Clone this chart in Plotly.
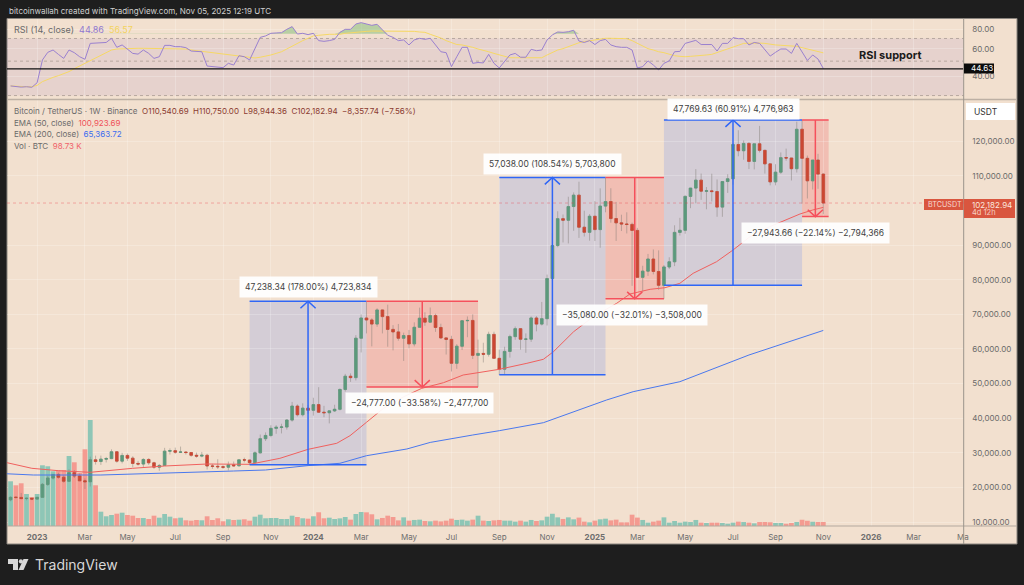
"""BTCUSDT weekly chart with RSI pane and measure boxes."""

from datetime import timedelta

import numpy as np
import pandas as pd
import plotly.graph_objects as go

W, H = 1024, 585
FONT = "Inter"

# weekly bars
week_start = "2022-11-28"
week_end = "2025-11-03"

opens = [
    16430, 17130, 17100, 16780, 16840, 16620, 17127, 20870, 22710, 23740,
    22930, 21780, 24250, 23300, 21900, 21650, 27980, 27480, 28170, 28320,
    30300, 27590, 29230, 28450, 26920, 26750, 28070, 27110, 25850, 26340,
    30470, 30620, 30170, 30230, 30080, 29280, 29040, 29280, 26190, 26100,
    25970, 25830, 26530, 26250, 27970, 27900, 27150, 29990, 34080, 35010,
    37060, 37360, 37450, 39460, 43500, 41000, 42900, 42280, 43930, 41730,
    41580, 42120, 42580, 48300, 52130, 51730, 63110, 68960, 68390, 67210,
    71280, 69360, 65660, 64940, 63100, 63890, 61480, 66270, 68900, 67760,
    69650, 66220, 63210, 62770, 55860, 60800, 68170, 68250, 58160, 58720,
    58470, 64220, 57300, 54160, 59300, 63580, 65880, 62820, 62850, 68960,
    67200, 68760, 80370, 89900, 97670, 97200, 101170, 104460, 95190, 93720,
    98360, 94510, 101300, 102620, 97700, 96460, 96120, 96000, 94270, 80700,
    82500, 86000, 82400, 78400, 83700, 85200, 93700, 94300, 104100, 106500,
    108800, 105600, 105700, 105500, 101000, 108400, 109200, 119100, 117300, 119400,
    114200, 119300, 117400, 113500, 108300, 111100, 115300, 115200, 112100, 123500,
    115100, 108600, 114600, 110540.69,
]
highs = [
    17400, 17430, 18390, 17060, 16970, 17180, 21260, 23370, 23820, 24250,
    23450, 25250, 25020, 24000, 22600, 28870, 29180, 29190, 28800, 31000,
    30490, 30000, 29800, 29000, 27670, 28450, 28450, 27400, 26770, 31430,
    31280, 31500, 31800, 30400, 30100, 30050, 30250, 29700, 26800, 28140,
    26400, 27480, 27480, 28050, 28600, 28000, 30400, 35280, 35900, 37970,
    37980, 38400, 39700, 44700, 44000, 44300, 43800, 45900, 48970, 43570,
    42250, 43880, 48600, 52800, 52950, 64000, 69990, 73780, 68900, 71770,
    71360, 72800, 66900, 67230, 64730, 65500, 67700, 71950, 70600, 71990,
    70200, 67300, 63370, 63800, 61400, 68370, 69400, 70000, 62700, 61800,
    65000, 65000, 59800, 60650, 64130, 66500, 66000, 64500, 69400, 69500,
    73600, 81500, 93500, 99800, 98870, 104000, 105250, 108350, 99960, 98980,
    102720, 106420, 109600, 106460, 102500, 98800, 99500, 96500, 95000, 84050,
    87470, 88770, 88500, 84250, 86500, 95750, 97900, 104360, 105800, 111980,
    110700, 106800, 110650, 109000, 108500, 110500, 119500, 123220, 120250, 119800,
    119300, 124470, 117600, 113500, 113400, 116800, 117900, 113000, 125700, 126200,
    115900, 114000, 116400, 110750,
]
lows = [
    15995, 16730, 16530, 16270, 16330, 16540, 17085, 20400, 22290, 22500,
    21350, 21530, 22720, 21970, 19550, 20260, 26600, 26500, 27200, 28170,
    27130, 26940, 27660, 25810, 26300, 25870, 26500, 25350, 24800, 26250,
    29500, 29700, 29950, 29500, 28860, 28580, 28700, 25170, 25350, 25330,
    25330, 24900, 26000, 26000, 27200, 26530, 26950, 29800, 33400, 34500,
    35500, 35600, 36700, 39000, 40500, 40500, 41300, 40750, 41500, 40280,
    38500, 41800, 42250, 47700, 50500, 50900, 59000, 64500, 60760, 66400,
    64500, 60660, 59600, 62400, 56550, 60200, 60750, 66600, 66700, 67600,
    64950, 62900, 58400, 53500, 54260, 59700, 63400, 57100, 49000, 56100,
    57800, 57100, 52500, 52550, 57500, 62650, 59800, 58900, 62050, 65100,
    66800, 66800, 79800, 89400, 90800, 90500, 94150, 92100, 92500, 91300,
    91200, 89250, 99500, 96500, 91230, 94090, 93400, 78250, 81500, 76600,
    81130, 81560, 77100, 74500, 83100, 83950, 92800, 93300, 100700, 102100,
    103100, 100370, 102650, 98200, 98200, 105100, 107500, 115700, 114700, 112000,
    111900, 116800, 110700, 107300, 107300, 110600, 114400, 108700, 111000, 102000,
    103500, 106100, 106300, 98944.36,
]
closes = [
    17130, 17100, 16780, 16840, 16620, 17127, 20870, 22710, 23740, 22930,
    21780, 24250, 23300, 21900, 21650, 27980, 27480, 28170, 28320, 30300,
    27590, 29230, 28450, 26920, 26750, 28070, 27110, 25850, 26340, 30470,
    30620, 30170, 30230, 30080, 29280, 29040, 29280, 26190, 26100, 25970,
    25830, 26530, 26250, 27970, 27900, 27150, 29990, 34080, 35010, 37060,
    37360, 37450, 39460, 43500, 41000, 42900, 42280, 43930, 41730, 41580,
    42120, 42580, 48300, 52130, 51730, 63110, 68960, 68390, 67210, 71280,
    69360, 65660, 64940, 63100, 63890, 61480, 66270, 68900, 67760, 69650,
    66220, 63210, 62770, 55860, 60800, 68170, 68250, 58160, 58720, 58470,
    64220, 57300, 54160, 59300, 63580, 65880, 62820, 62850, 68960, 67200,
    68760, 80370, 89900, 97670, 97200, 101170, 104460, 95190, 93720, 98360,
    94510, 101300, 102620, 97700, 96460, 96120, 96000, 94270, 80700, 82500,
    86000, 82400, 78400, 83700, 85200, 93700, 94300, 104100, 106500, 108800,
    105600, 105700, 105500, 101000, 108400, 109200, 119100, 117300, 119400, 114200,
    119300, 117400, 113500, 108300, 111100, 115300, 115200, 112100, 123500, 115100,
    108600, 114600, 110540.69, 102182.94,
]
volumes = [
    1118, 1018, 1068, 800, 725, 800, 1518, 1493, 1368, 1393,
    1400, 1750, 1593, 1325, 1918, 2650, 1018, 358, 243, 275,
    308, 333, 275, 258, 200, 200, 175, 258, 208, 300,
    233, 193, 208, 143, 133, 150, 143, 243, 150, 193,
    118, 168, 150, 158, 168, 133, 233, 283, 193, 200,
    200, 175, 175, 258, 225, 193, 183, 243, 343, 193,
    208, 175, 191, 225, 159, 300, 350, 342, 293, 167,
    201, 258, 225, 141, 216, 134, 151, 159, 125, 117,
    134, 115, 134, 183, 151, 159, 134, 159, 258, 134,
    125, 141, 151, 134, 134, 109, 134, 109, 151, 125,
    141, 233, 306, 216, 176, 216, 167, 210, 109, 92,
    134, 167, 183, 141, 159, 92, 92, 283, 210, 151,
    84, 109, 134, 216, 84, 125, 84, 109, 99, 151,
    84, 75, 84, 84, 75, 57, 84, 109, 99, 84,
    67, 99, 99, 92, 75, 75, 57, 75, 99, 159,
    134, 109, 99, 98.73,
]
rsi = [
    34.6, 34.2, 34.0, 34.2, 33.9, 36.3, 50.9, 57.0, 59.0, 55.3,
    52.1, 59.0, 56.7, 53.4, 51.4, 65.1, 65.4, 65.7, 66.0, 70.2,
    61.4, 63.6, 59.9, 56.1, 55.5, 59.0, 56.1, 52.1, 53.4, 63.2,
    63.2, 62.0, 62.0, 61.1, 58.1, 57.8, 57.5, 46.5, 46.1, 45.6,
    45.4, 48.4, 47.2, 54.2, 53.4, 50.9, 60.5, 71.2, 72.7, 75.6,
    76.0, 76.3, 80.2, 83.5, 74.8, 75.6, 74.1, 75.6, 67.8, 67.1,
    67.8, 69.1, 76.7, 80.2, 80.2, 86.8, 88.6, 86.8, 85.1, 86.4,
    79.4, 73.4, 71.2, 67.8, 68.5, 63.6, 68.5, 70.2, 69.1, 70.2,
    63.6, 57.5, 56.7, 46.1, 53.4, 61.4, 61.4, 48.4, 49.0, 48.7,
    55.3, 48.4, 45.2, 49.6, 54.8, 56.1, 53.0, 53.0, 59.6, 58.4,
    59.0, 68.5, 73.8, 77.1, 76.7, 77.4, 79.1, 67.4, 66.0, 67.8,
    64.0, 67.8, 69.1, 63.6, 62.0, 61.4, 61.4, 59.0, 45.2, 46.1,
    50.2, 47.2, 43.9, 48.4, 50.2, 57.5, 57.8, 65.1, 66.8, 68.1,
    64.0, 64.0, 64.0, 58.1, 65.1, 65.1, 70.9, 69.8, 69.8, 63.6,
    66.0, 65.1, 59.6, 53.9, 57.0, 59.9, 59.9, 56.1, 65.1, 57.5,
    50.5, 54.8, 51.6, 44.86,
]
rsi_ma = [
    34.6, 34.4, 34.3, 34.2, 34.2, 34.9, 36.9, 38.2, 39.3, 40.3,
    41.3, 42.8, 44.7, 46.5, 47.9, 49.9, 52.1, 54.2, 56.7, 59.0,
    59.9, 60.2, 60.5, 60.5, 60.5, 60.5, 60.5, 60.5, 60.5, 60.2,
    60.2, 60.2, 60.2, 59.9, 59.0, 58.4, 58.1, 57.3, 56.4, 55.8,
    55.5, 55.0, 54.5, 53.9, 53.4, 52.6, 52.4, 53.0, 53.7, 54.8,
    56.1, 57.5, 59.9, 62.6, 65.1, 67.8, 70.2, 72.7, 73.4, 74.1,
    74.5, 74.5, 74.5, 75.6, 76.3, 77.1, 77.4, 77.8, 78.2, 78.2,
    78.6, 78.6, 78.6, 78.6, 78.6, 78.6, 77.8, 77.1, 76.7, 74.5,
    72.7, 70.5, 67.8, 65.7, 64.0, 63.6, 62.6, 61.4, 59.9, 59.0,
    57.5, 56.1, 54.8, 53.4, 52.6, 52.6, 52.6, 52.6, 52.6, 52.6,
    52.6, 54.8, 57.0, 59.0, 60.2, 62.0, 64.0, 65.7, 66.8, 67.8,
    68.8, 69.8, 70.2, 70.2, 70.2, 70.2, 69.8, 67.8, 65.1, 62.9,
    60.2, 59.0, 57.5, 56.7, 55.3, 54.2, 53.7, 53.4, 53.7, 53.9,
    54.5, 54.8, 55.3, 56.7, 58.1, 59.6, 61.7, 63.3, 65.1, 65.4,
    65.7, 65.4, 65.1, 64.0, 63.6, 63.3, 62.9, 62.6, 62.3, 61.1,
    59.9, 59.0, 57.5, 56.57,
]

# EMA lines, week number and value
ema50_weeks = [-1, 4, 9, 15, 23, 29, 37, 45, 50.7, 56, 61.4, 63.9, 67, 70.2, 74, 77.4, 81.5,
               85.2, 88, 92, 97.2, 100.3, 102.2, 106, 109.7, 114.1, 116.6, 120.4, 123.2,
               126, 128.5, 132.9, 136, 139.2, 142.9, 146.7, 148.6, 151, 153]
ema50_values = [27250, 25520, 24830, 24360, 25520, 26180, 26760, 26670, 28400, 31000, 32740,
                34940, 38810, 42850, 46200, 48630, 50260, 52480, 53150, 54130, 55860, 57020,
                59220, 65000, 69330, 73200, 75890, 77250, 77710, 78980, 81870, 85220, 88600,
                92450, 95340, 97770, 99010, 100170, 100923.69]
ema200_weeks = [-1, 4.3, 17, 29.4, 42, 48, 56, 62, 67, 74.6, 79, 87, 92, 100.3, 112.2, 117.2, 126, 139, 153]
ema200_values = [23960, 23580, 23580, 24250, 24740, 25030, 26300, 26960, 29160, 31100, 33000,
                 35140, 36390, 38700, 45260, 47660, 50550, 58260, 65363.72]

# measure tools: start, end, from, to
blue_boxes = [
    ("2023-10-09", "2024-03-11", 26539, 73777),
    ("2024-09-02", "2025-01-20", 52550, 109588),
    ("2025-04-07", "2025-10-06", 78430, 126200),
]
red_boxes = [
    ("2024-03-11", "2024-08-05", 73777, 49000),
    ("2025-01-20", "2025-04-07", 109588, 74508),
    ("2025-10-06", "2025-11-10", 126200, 98256),
]
box_labels = [
    "47,238.34 (178.00%) 4,723,834",
    "−24,777.00 (−33.58%) −2,477,700",
    "57,038.00 (108.54%) 5,703,800",
    "−35,080.00 (−32.01%) −3,508,000",
    "47,769.63 (60.91%) 4,776,963",
    "−27,943.66 (−22.14%) −2,794,366",
]
box_label_pos = [(308, 287), (419, 403), (552, 164), (632, 315), (733, 109), (815, 233)]

# axis labels
tick_dates = ["2023-01-02", "2023-03-06", "2023-05-01", "2023-07-03", "2023-09-04", "2023-11-06",
              "2024-01-01", "2024-03-04", "2024-05-06", "2024-07-01", "2024-09-02", "2024-11-04",
              "2025-01-06", "2025-03-03", "2025-05-05", "2025-07-07", "2025-09-01", "2025-11-03",
              "2026-01-05", "2026-03-02", "2026-05-06"]
tick_text = ["<b>2023</b>", "Mar", "May", "Jul", "Sep", "Nov",
             "<b>2024</b>", "Mar", "May", "Jul", "Sep", "Nov",
             "<b>2025</b>", "Mar", "May", "Jul", "Sep", "Nov",
             "<b>2026</b>", "Mar", "Ma"]
price_ticks = [10000, 20000, 30000, 40000, 50000, 60000, 70000, 80000, 90000, 110000, 120000]
rsi_ticks = [40, 60, 80]
rsi_support = 44.63
rsi_fill_level = 75

GREEN, RED = "#5b9a7c", "#cb4733"
VOL_GREEN, VOL_RED = "#8ec6b6", "#f49b91"
BLUE_LINE, RED_LINE = "#2f66f6", "#f5505c"
PANEL = "#f2e0cf"
TEXT = "#6a6a6a"


def fx(x):
    return x / W


def fy(y):
    return 1 - y / H


def note(text, x, y, size=8, color=TEXT, xanchor="left", **kw):
    return dict(text=text, x=fx(x), y=fy(y), xref="paper", yref="paper", showarrow=False,
                xanchor=xanchor, yanchor="middle", align="left",
                font=dict(family=FONT, size=size, color=color), **kw)


weeks = pd.date_range(week_start, week_end, freq="W-MON")
opens, highs, lows, closes = map(np.array, (opens, highs, lows, closes))
up = closes >= opens


def week_dates(numbers):
    return [weeks[0] + timedelta(days=7 * n) for n in numbers]


fig = go.Figure()

# volume sits on the base axis so the candles stay on top of it
fig.add_trace(go.Bar(
    x=weeks, y=volumes, width=0.9 * 7 * 86400000,
    marker=dict(color=[VOL_GREEN if u else VOL_RED for u in up], line_width=0),
    xaxis="x", yaxis="y", hoverinfo="skip",
))

# wicks first, then the bodies as a second candlestick without whiskers
fig.add_trace(go.Candlestick(
    x=weeks, open=opens, high=highs, low=lows, close=closes,
    increasing=dict(line=dict(color="rgba(125,120,112,0.45)", width=1), fillcolor="rgba(0,0,0,0)"),
    decreasing=dict(line=dict(color="rgba(125,120,112,0.45)", width=1), fillcolor="rgba(0,0,0,0)"),
    xaxis="x", yaxis="y2", hoverinfo="skip",
))
fig.add_trace(go.Candlestick(
    x=weeks, open=opens, close=closes,
    high=np.maximum(opens, closes), low=np.minimum(opens, closes),
    increasing=dict(line=dict(color=GREEN, width=0.7), fillcolor=GREEN),
    decreasing=dict(line=dict(color=RED, width=0.7), fillcolor=RED),
    xaxis="x", yaxis="y2", hoverinfo="skip",
))

fig.add_trace(go.Scatter(x=week_dates(ema50_weeks), y=ema50_values, mode="lines",
                         line=dict(color="#f0605e", width=1), xaxis="x", yaxis="y2", hoverinfo="skip"))
fig.add_trace(go.Scatter(x=week_dates(ema200_weeks), y=ema200_values, mode="lines",
                         line=dict(color="#4a78ee", width=1), xaxis="x", yaxis="y2", hoverinfo="skip"))

shapes = []
for boxes, fill, line in ((blue_boxes, "rgba(41,98,255,0.15)", BLUE_LINE),
                          (red_boxes, "rgba(242,54,69,0.2)", RED_LINE)):
    for start, end, p0, p1 in boxes:
        shapes.append(dict(type="rect", xref="x", yref="y2", x0=start, x1=end, y0=p0, y1=p1,
                           fillcolor=fill, line_width=0, layer="below"))
        for p in (p0, p1):
            shapes.append(dict(type="line", xref="x", yref="y2", x0=start, x1=end, y0=p, y1=p,
                               line=dict(color=line, width=1.5)))
        mid = pd.Timestamp(start) + (pd.Timestamp(end) - pd.Timestamp(start)) / 2
        head_x = timedelta(days=10)
        head_y = 2000 if p1 > p0 else -2000
        fig.add_trace(go.Scatter(
            x=[mid, mid, None, mid - head_x, mid, mid + head_x],
            y=[p0, p1, None, p1 - head_y, p1, p1 - head_y],
            mode="lines", line=dict(color=line, width=1.5),
            xaxis="x", yaxis="y2", hoverinfo="skip",
        ))

# last price line
shapes.append(dict(type="line", xref="paper", yref="y2", x0=fx(7), x1=fx(963.7), y0=closes[-1], y1=closes[-1],
                   line=dict(color="rgba(242,54,69,0.35)", width=1, dash="dot")))

# RSI pane
rsi_x_range = [weeks[0] - timedelta(days=35), pd.Timestamp("2026-05-07")]
shapes.append(dict(type="rect", xref="x2", yref="y3", x0=rsi_x_range[0], x1=rsi_x_range[1], y0=30, y1=70,
                   fillcolor="rgba(126,87,194,0.1)", line_width=0, layer="below"))
for level in (30, 50, 70):
    fig.add_trace(go.Scatter(x=rsi_x_range, y=[level, level], mode="lines",
                             line=dict(color="#b8a8a0", width=1, dash="dot"),
                             xaxis="x2", yaxis="y3", hoverinfo="skip"))
fig.add_trace(go.Scatter(x=weeks, y=[rsi_fill_level] * len(weeks), mode="lines", line_width=0,
                         xaxis="x2", yaxis="y3", hoverinfo="skip"))
fig.add_trace(go.Scatter(x=weeks, y=np.maximum(rsi, rsi_fill_level), mode="lines", line_width=0, fill="tonexty",
                         fillcolor="rgba(76,175,80,0.35)", xaxis="x2", yaxis="y3", hoverinfo="skip"))
fig.add_trace(go.Scatter(x=weeks, y=rsi_ma, mode="lines", line=dict(color="#f6d865", width=1),
                         xaxis="x2", yaxis="y3", hoverinfo="skip"))
fig.add_trace(go.Scatter(x=weeks, y=rsi, mode="lines", line=dict(color="#9a80cf", width=1),
                         xaxis="x2", yaxis="y3", hoverinfo="skip"))
fig.add_trace(go.Scatter(x=rsi_x_range, y=[rsi_support, rsi_support], mode="lines",
                         line=dict(color="#111111", width=1.2),
                         xaxis="x2", yaxis="y3", hoverinfo="skip"))

# panel frame, drawn in paper space
frame = [
    dict(type="rect", xref="paper", yref="paper", x0=fx(7), x1=fx(1017), y0=fy(18.5), y1=fy(544),
         fillcolor=PANEL, line=dict(color="#8a857f", width=1), layer="below"),
    dict(type="line", xref="paper", yref="paper", x0=fx(7), x1=fx(1017), y0=fy(99.5), y1=fy(99.5),
         line=dict(color="#bdb0a4", width=1.5)),
    dict(type="line", xref="paper", yref="paper", x0=fx(7), x1=fx(1017), y0=fy(526), y1=fy(526),
         line=dict(color="#b3a89e", width=1)),
    dict(type="line", xref="paper", yref="paper", x0=fx(963.7), x1=fx(963.7), y0=fy(18.5), y1=fy(544),
         line=dict(color="#9b948c", width=1)),
    # tag behind the symbol name and last price
    dict(type="rect", xref="paper", yref="paper", x0=fx(924), x1=fx(963.5), y0=fy(199), y1=fy(210),
         fillcolor="#d9563f", line_width=0),
    dict(type="rect", xref="paper", yref="paper", x0=fx(964), x1=fx(1015), y0=fy(199), y1=fy(218),
         fillcolor="#d9563f", line_width=0),
    dict(type="rect", xref="paper", yref="paper", x0=fx(964), x1=fx(994), y0=fy(63.5), y1=fy(73.5),
         fillcolor="#0c0c0c", line_width=0),
    dict(type="rect", xref="paper", yref="paper", x0=fx(966), x1=fx(1015), y0=fy(103), y1=fy(120),
         fillcolor="#ffffff", line_width=0),
    # TradingView mark
    dict(type="path", xref="paper", yref="paper", line_width=0, fillcolor="#d8d8d8",
         path=f"M{fx(8)},{fy(559)} L{fx(18)},{fy(559)} L{fx(18)},{fy(570)} L{fx(13)},{fy(570)} "
              f"L{fx(13)},{fy(564)} L{fx(8)},{fy(564)} Z"),
    dict(type="circle", xref="paper", yref="paper", line_width=0, fillcolor="#d8d8d8",
         x0=fx(18.8), x1=fx(23), y0=fy(559.3), y1=fy(563.6)),
    dict(type="path", xref="paper", yref="paper", line_width=0, fillcolor="#d8d8d8",
         path=f"M{fx(23.5)},{fy(559)} L{fx(28.5)},{fy(559)} L{fx(23.5)},{fy(570)} L{fx(18.5)},{fy(570)} Z"),
]

annotations = [
    note("bitcoinwallah created with TradingView.com, Nov 05, 2025 12:19 UTC", 7, 10.5, size=8, color="#d0d0d0"),
    note("TradingView", 33, 564.5, size=14, color="#d8d8d8"),
    note(f"RSI (14, close)  <span style='color:#8f78cf'>44.86</span>  <span style='color:#f3d35e'>56.57</span>",
         12, 29, size=9),
    note("Bitcoin / TetherUS · 1W · Binance  <span style='color:#8a3a30'>O110,540.69  H110,750.00  L98,944.36  "
         "C102,182.94  −8,357.74 (−7.56%)</span>", 12, 110.5, size=8),
    note("EMA (50, close)  <span style='color:#f0505a'>100,923.69</span>", 12, 122.5, size=8),
    note("EMA (200, close)  <span style='color:#3c6cf0'>65,363.72</span>", 12, 134, size=8),
    note("Vol · BTC  <span style='color:#f0606a'>98.73 K</span>", 12, 146, size=8),
    note("<b>RSI support</b>", 857, 54.5, size=11, color="#1a1a1a"),
    note("44.63", 969, 68, size=8, color="#ffffff"),
    note("USDT", 972, 111.5, size=8.5, color="#333333"),
    note("BTCUSDT", 926, 204.5, size=7.2, color="#f7d9cf"),
    note("102,182.94", 970, 204.5, size=8, color="#fbe6de"),
    note("4d 12h", 970, 212.5, size=7.5, color="#f7d0c4"),
]
for text, (x, y) in zip(box_labels, box_label_pos):
    annotations.append(note(text, x, y, size=8.5, color="#3f3f3f", xanchor="center",
                            bgcolor="rgba(255,255,255,0.93)", borderpad=5))

grid = "rgba(255,255,255,0.22)"
x_common = dict(
    type="date", range=["2022-11-23 07:00", "2026-05-07"], domain=[fx(7), fx(963.7)],
    tickmode="array", tickvals=tick_dates, showgrid=True, gridcolor=grid, zeroline=False,
    rangeslider=dict(visible=False),
)
fig.update_layout(
    width=W, height=H, margin=dict(l=0, r=0, t=0, b=0, autoexpand=False),
    paper_bgcolor="#1e1e1e", plot_bgcolor="rgba(0,0,0,0)",
    showlegend=False, shapes=frame + shapes, annotations=annotations,
    font=dict(family=FONT, size=8, color=TEXT),
    xaxis=dict(**x_common, ticktext=tick_text, anchor="y", tickfont=dict(size=8, color="#6e6e6e"),
               ticks="outside", ticklen=3, tickcolor="rgba(0,0,0,0)"),
    xaxis2=dict(**x_common, matches="x", anchor="y3", showticklabels=False),
    yaxis=dict(domain=[fy(526), fy(100)], range=[0, 10650], visible=False, fixedrange=True),
    yaxis2=dict(domain=[fy(526), fy(100)], overlaying="y", side="right", anchor="x",
                range=[8844, 131958], tickmode="array", tickvals=price_ticks, tickformat=",.2f",
                showgrid=True, gridcolor=grid, zeroline=False, showline=False,
                ticks="outside", ticklen=6, tickcolor="rgba(0,0,0,0)",
                tickfont=dict(size=8, color=TEXT)),
    yaxis3=dict(domain=[fy(99), fy(18.5)], type="log", side="right", anchor="x2",
                range=[np.log10(28.5), np.log10(94.2)], tickmode="array", tickvals=rsi_ticks,
                tickformat=".2f", showgrid=True, gridcolor=grid, zeroline=False,
                ticks="outside", ticklen=6, tickcolor="rgba(0,0,0,0)",
                tickfont=dict(size=8, color=TEXT)),
)

fig.write_html(
    "out.html",
    config=dict(displayModeBar=False),
    post_script="document.body.style.margin='0';document.body.style.overflow='hidden';",
)
